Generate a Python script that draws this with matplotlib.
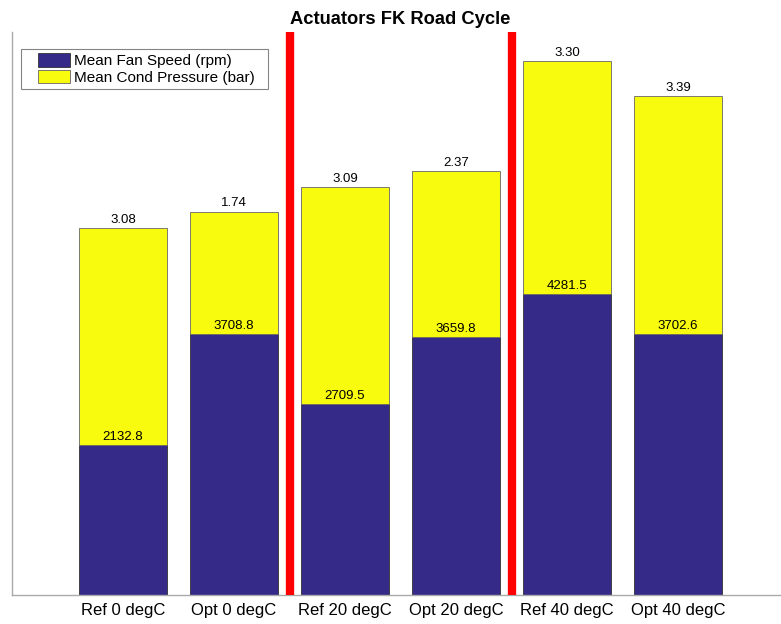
import numpy as np
import matplotlib
matplotlib.use("Agg")
import matplotlib.pyplot as plt
from matplotlib.legend_handler import HandlerPatch
from matplotlib.patches import Rectangle

plt.rcParams['font.family'] = ['Liberation Sans', 'DejaVu Sans']

cases = ['Ref 0 degC', 'Opt 0 degC', 'Ref 20 degC', 'Opt 20 degC', 'Ref 40 degC', 'Opt 40 degC']
fan_speed = [2132.8, 3708.8, 2709.5, 3659.8, 4281.5, 3702.6]
cond_pressure = [3.08, 1.74, 3.09, 2.37, 3.30, 3.39]
pressure_scale = 1000  # bar shown stacked on rpm axis
separators = [2.5, 4.5]
legend_labels = ['Mean Fan Speed (rpm)', 'Mean Cond Pressure (bar)  ']

blue = '#352a87'
yellow = '#f9fb0e'

fig = plt.figure(figsize=(7.81, 6.24), dpi=100)
ax = fig.add_axes([12/781, 1 - 595/624, 777/781, 563/624])

x = np.arange(1, len(cases) + 1)
p_scaled = np.array(cond_pressure) * pressure_scale
b1 = ax.bar(x, fan_speed, width=0.8, color=blue, edgecolor='#333333', linewidth=0.6,
            zorder=2)
b2 = ax.bar(x, p_scaled, width=0.8, bottom=fan_speed, color=yellow, edgecolor='#666666',
            linewidth=0.6, zorder=2)

for xi, f, p in zip(x, fan_speed, cond_pressure):
    ax.text(xi, f + 30, f'{f:.1f}', ha='center', va='bottom', fontsize=9.5, zorder=3)
    ax.text(xi, f + p * pressure_scale + 30, f'{p:.2f}', ha='center', va='bottom',
            fontsize=9.5, zorder=3)

for s in separators:
    ax.axvline(s, color='#ff0000', linewidth=6, zorder=4)

ax.set_xlim(0, 777/111)
ax.set_ylim(0, 8000)
ax.set_xticks(x)
ax.set_xticklabels(cases, fontsize=12)
ax.set_yticks([])
ax.tick_params(axis='x', direction='in', length=4, color='#555555', pad=6)
for side in ['top', 'right']:
    ax.spines[side].set_visible(False)
for side in ['left', 'bottom']:
    ax.spines[side].set_color('#aaaaaa')
    ax.spines[side].set_linewidth(1)

ax.set_title('Actuators FK Road Cycle', fontsize=13.2, fontweight='bold', pad=6)


# legend swatch sits at the right of a wider handle slot, like MATLAB
def swatch(legend, orig_handle, xdescent, ydescent, width, height, fontsize):
    w = width * 0.72
    return Rectangle((width - w - xdescent, -ydescent), w, height)


leg = ax.legend([b1.patches[0], b2.patches[0]], legend_labels,
                loc='upper left', bbox_to_anchor=(0.0116, 0.97), borderaxespad=0,
                fontsize=11, frameon=True, fancybox=False, edgecolor='#666666',
                borderpad=0.3, handlelength=2.9, handleheight=0.95, labelspacing=0.1,
                handletextpad=0.25,
                handler_map={Rectangle: HandlerPatch(patch_func=swatch)})
leg.get_frame().set_linewidth(0.8)

fig.savefig('out.png', dpi=100)
